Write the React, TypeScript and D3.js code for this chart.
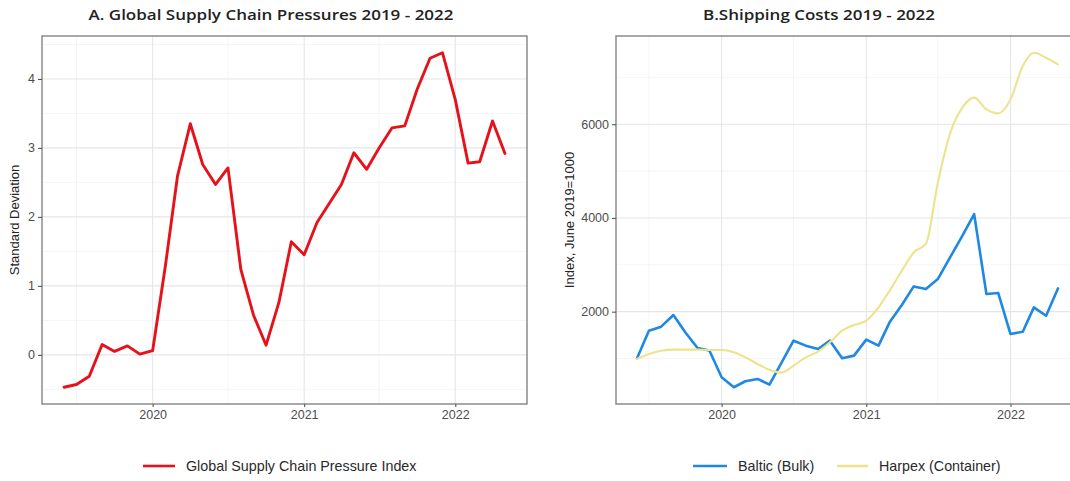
import * as React from "react";
import * as d3 from "d3";

// monthly observations, June 2019 - May 2022
const months = [
  "2019-06", "2019-07", "2019-08", "2019-09", "2019-10", "2019-11", "2019-12",
  "2020-01", "2020-02", "2020-03", "2020-04", "2020-05", "2020-06", "2020-07",
  "2020-08", "2020-09", "2020-10", "2020-11", "2020-12", "2021-01", "2021-02",
  "2021-03", "2021-04", "2021-05", "2021-06", "2021-07", "2021-08", "2021-09",
  "2021-10", "2021-11", "2021-12", "2022-01", "2022-02", "2022-03", "2022-04",
  "2022-05",
];

const gscpi = [
  -0.47, -0.43, -0.31, 0.15, 0.05, 0.13, 0.01, 0.06, 1.3, 2.59, 3.35, 2.76,
  2.47, 2.71, 1.24, 0.57, 0.14, 0.76, 1.64, 1.45, 1.92, 2.18, 2.47, 2.93,
  2.69, 3.0, 3.29, 3.32, 3.85, 4.3, 4.38, 3.7, 2.78, 2.8, 3.39, 2.92,
];

const baltic = [
  1005, 1595, 1680, 1928, 1560, 1225, 1170, 600, 387, 515, 565, 444,
  920, 1381, 1275, 1204, 1381, 1005, 1062, 1403, 1275, 1772, 2141, 2539,
  2482, 2695, 3157, 3618, 4080, 2376, 2397, 1523, 1573, 2092, 1914, 2496,
];

const harpex = [
  990, 1097, 1168, 1190, 1190, 1190, 1183, 1183, 1133, 1026, 884, 760,
  700, 849, 1026, 1147, 1346, 1595, 1715, 1808, 2092, 2447, 2873, 3264,
  3450, 4750, 5800, 6353, 6566, 6317, 6232, 6530, 7241, 7525, 7418, 7276,
];

const yearTicks = ["2020-01", "2021-01", "2022-01"];
const gscpiTicks = [0, 1, 2, 3, 4];
const shippingTicks = [2000, 4000, 6000];

const W = 1070;
const H = 481;
const FONT = "'Liberation Sans', Arial, sans-serif";
const TITLE_FONT = "'Open Sans', Lato, sans-serif";

const parse = d3.timeParse("%Y-%m");

interface Panel {
  x0: number; x1: number; y0: number; y1: number;
}

function expand(ext: [number, number], f = 0.05): [number, number] {
  const d = (ext[1] - ext[0]) * f;
  return [ext[0] - d, ext[1] + d];
}

function drawPanel(
  root: d3.Selection<SVGGElement, unknown, null, undefined>,
  p: Panel,
  series: { values: number[]; color: string; width: number; curve: d3.CurveFactory }[],
  yTicks: number[],
  yMinorStep: number,
  yTitle: string,
  yTitleX: number,
) {
  const dates = months.map((m) => parse(m)!);
  const tExt = d3.extent(dates) as [Date, Date];
  const tPad = (+tExt[1] - +tExt[0]) * 0.05;
  const x = d3.scaleTime()
    .domain([new Date(+tExt[0] - tPad), new Date(+tExt[1] + tPad)])
    .range([p.x0, p.x1]);

  const all = series.flatMap((s) => s.values);
  const y = d3.scaleLinear()
    .domain(expand(d3.extent(all) as [number, number]))
    .range([p.y1, p.y0]);

  const clipId = "clip" + Math.round(p.x0);
  root.append("clipPath").attr("id", clipId)
    .append("rect")
    .attr("x", p.x0).attr("y", p.y0)
    .attr("width", p.x1 - p.x0).attr("height", p.y1 - p.y0);

  const g = root.append("g").attr("clip-path", `url(#${clipId})`);

  // minor grid
  const majorDates = yearTicks.map((t) => parse(t)!);
  const minorDates = d3.timeYear.range(new Date(2019, 0, 1), new Date(2023, 0, 1))
    .map((d) => d3.timeMonth.offset(d, 6));
  g.selectAll(".xminor").data(minorDates).enter().append("line")
    .attr("x1", (d) => x(d)).attr("x2", (d) => x(d))
    .attr("y1", p.y0).attr("y2", p.y1)
    .attr("stroke", "#F2F2F2").attr("stroke-width", 0.8);
  const yDom = y.domain();
  const yMinor = d3.range(Math.ceil(yDom[0] / yMinorStep) * yMinorStep, yDom[1], yMinorStep)
    .filter((v) => !yTicks.includes(v));
  g.selectAll(".yminor").data(yMinor).enter().append("line")
    .attr("x1", p.x0).attr("x2", p.x1)
    .attr("y1", (d) => y(d)).attr("y2", (d) => y(d))
    .attr("stroke", "#F2F2F2").attr("stroke-width", 0.8);

  // major grid
  g.selectAll(".xmajor").data(majorDates).enter().append("line")
    .attr("x1", (d) => x(d)).attr("x2", (d) => x(d))
    .attr("y1", p.y0).attr("y2", p.y1)
    .attr("stroke", "#E6E6E6").attr("stroke-width", 1.1);
  g.selectAll(".ymajor").data(yTicks).enter().append("line")
    .attr("x1", p.x0).attr("x2", p.x1)
    .attr("y1", (d) => y(d)).attr("y2", (d) => y(d))
    .attr("stroke", "#E6E6E6").attr("stroke-width", 1.1);

  series.forEach((s) => {
    const line = d3.line<number>()
      .x((_, i) => x(dates[i]))
      .y((v) => y(v))
      .curve(s.curve);
    g.append("path")
      .attr("d", line(s.values))
      .attr("fill", "none")
      .attr("stroke", s.color)
      .attr("stroke-width", s.width)
      .attr("stroke-linejoin", "round")
      .attr("stroke-linecap", "round");
  });

  // panel border
  root.append("rect")
    .attr("x", p.x0).attr("y", p.y0)
    .attr("width", p.x1 - p.x0).attr("height", p.y1 - p.y0)
    .attr("fill", "none").attr("stroke", "#7A7A7A").attr("stroke-width", 1.3);

  // axes
  const xAxis = root.append("g")
    .attr("transform", `translate(0,${p.y1})`)
    .call(d3.axisBottom(x).tickValues(majorDates).tickFormat((d) => d3.timeFormat("%Y")(d as Date))
      .tickSize(3).tickPadding(3));
  const yAxis = root.append("g")
    .attr("transform", `translate(${p.x0},0)`)
    .call(d3.axisLeft(y).tickValues(yTicks).tickFormat(d3.format("d")).tickSize(4).tickPadding(3));
  [xAxis, yAxis].forEach((a) => {
    a.select(".domain").remove();
    a.selectAll("line").attr("stroke", "#555").attr("stroke-width", 1.1);
    a.selectAll("text")
      .attr("fill", "#4D4D4D")
      .attr("font-family", FONT)
      .attr("font-size", "12.5px");
  });

  root.append("text")
    .attr("transform", `translate(${yTitleX},${(p.y0 + p.y1) / 2}) rotate(-90)`)
    .attr("text-anchor", "middle")
    .attr("font-family", FONT)
    .attr("font-size", "13px")
    .attr("fill", "#222")
    .text(yTitle);
}

function legendItem(
  root: d3.Selection<SVGGElement, unknown, null, undefined>,
  x0: number, x1: number, y: number, color: string, label: string,
) {
  root.append("line")
    .attr("x1", x0).attr("x2", x1).attr("y1", y).attr("y2", y)
    .attr("stroke", color).attr("stroke-width", 2.6);
  root.append("text")
    .attr("x", x1 + 11).attr("y", y)
    .attr("dominant-baseline", "central")
    .attr("font-family", FONT)
    .attr("font-size", "14.3px")
    .attr("fill", "#2A2A2A")
    .text(label);
}

export default function App() {
  const svgRef = React.useRef<SVGSVGElement>(null);

  React.useEffect(() => {
    if (!svgRef.current) return;
    const svg = d3.select(svgRef.current);
    svg.selectAll("*").remove();
    const root = svg.append("g");

    root.append("rect").attr("width", W).attr("height", H).attr("fill", "#fff");

    drawPanel(root, { x0: 42, x1: 527, y0: 36, y1: 404 },
      [{ values: gscpi, color: "#E5121B", width: 2.9, curve: d3.curveLinear }],
      gscpiTicks, 0.5, "Standard Deviation", 19);

    drawPanel(root, { x0: 616, x1: 1079, y0: 36, y1: 404 },
      [
        { values: baltic, color: "#1F88E2", width: 2.6, curve: d3.curveLinear },
        { values: harpex, color: "#EEE38C", width: 2.1, curve: d3.curveMonotoneX },
      ],
      shippingTicks, 1000, "Index, June 2019=1000", 574);

    const titles = [
      { x: 271, text: "A. Global Supply Chain Pressures 2019 - 2022", len: 365 },
      { x: 819, text: "B.Shipping Costs 2019 - 2022", len: 232 },
    ];
    titles.forEach((t) => {
      root.append("text")
        .attr("x", t.x).attr("y", 20)
        .attr("text-anchor", "middle")
        .attr("font-family", TITLE_FONT)
        .attr("font-weight", 600)
        .attr("font-size", "15px")
        .attr("textLength", t.len)
        .attr("lengthAdjust", "spacingAndGlyphs")
        .attr("fill", "#222")
        .text(t.text);
    });

    legendItem(root, 143, 175, 466, "#E5121B", "Global Supply Chain Pressure Index");
    legendItem(root, 693, 727, 466, "#1F88E2", "Baltic (Bulk)");
    legendItem(root, 837, 868, 466, "#EEE38C", "Harpex (Container)");
  }, []);

  return (
    <svg
      ref={svgRef}
      width={W}
      height={H}
      style={{ position: "absolute", left: 0, top: 0, display: "block" }}
    />
  );
}
